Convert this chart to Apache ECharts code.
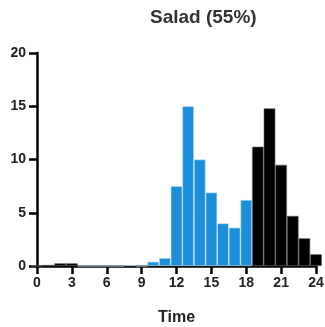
<!DOCTYPE html>
<html>
<head>
<meta charset="utf-8">
<script src="https://cdn.jsdelivr.net/npm/echarts@6/dist/echarts.min.js"></script>
<style>
  html, body { margin: 0; padding: 0; background: #fff; }
  #chart { width: 325px; height: 327px; }
</style>
</head>
<body>
<div id="chart"></div>
<script>
// hour of day, one bar per hour
const hours = [0, 1, 2, 3, 4, 5, 6, 7, 8, 9, 10, 11, 12, 13, 14, 15, 16, 17, 18, 19, 20, 21, 22, 23, 24];
const dayValues = [null, null, null, null, 0, 0, 0, 0, 0.1, 0, 0.4, 0.75, 7.5, 15.0, 10.0, 6.9, 4.0, 3.6, 6.2, null, null, null, null, null, null];
const nightValues = [0, 0.1, 0.25, 0.25, null, null, null, null, null, null, null, null, null, null, null, null, null, null, null, 11.2, 14.8, 9.5, 4.7, 2.6, 1.1];
const xTicks = [0, 3, 6, 9, 12, 15, 18, 21, 24];
const yTicks = [0, 5, 10, 15, 20];

const font = "Liberation Sans";
const chart = echarts.init(document.getElementById("chart"));

const pair = (vals) => hours.map((h, i) => [h, vals[i]]);

chart.setOption({
  animation: false,
  title: {
    text: "Salad (55%)",
    left: 150,
    top: 8,
    padding: 0,
    textStyle: { fontFamily: font, fontSize: 19, fontWeight: "bold", color: "#333" },
  },
  grid: { left: 37, right: 9, top: 53, bottom: 61, outerBoundsMode: "none", containLabel: false },
  xAxis: {
    type: "value",
    min: 0,
    max: 24,
    interval: 3,
    name: "Time",
    nameLocation: "middle",
    nameGap: 44,
    nameTextStyle: { fontFamily: font, fontSize: 16, fontWeight: "bold", color: "#222" },
    axisLine: { lineStyle: { color: "#000", width: 2.5 } },
    axisTick: { show: true, length: 8, inside: false, lineStyle: { color: "#000", width: 2.5 } },
    axisLabel: {
      fontFamily: font, fontSize: 14, fontWeight: "bold", color: "#222", margin: 10,
      formatter: (v) => (xTicks.includes(v) ? String(v) : ""),
    },
    splitLine: { show: false },
  },
  yAxis: {
    type: "value",
    min: 0,
    max: 20,
    interval: 5,
    axisLine: { show: true, lineStyle: { color: "#000", width: 2.5 } },
    axisTick: { show: true, length: 8, lineStyle: { color: "#000", width: 2.5 } },
    axisLabel: {
      fontFamily: font, fontSize: 14, fontWeight: "bold", color: "#222", margin: 11,
      formatter: (v) => (yTicks.includes(v) ? String(v) : ""),
    },
    splitLine: { show: false },
  },
  series: [
    {
      type: "bar",
      data: pair(dayValues),
      barWidth: 11.6,
      barGap: "-100%",
      clip: false,
      itemStyle: { color: "#1b8fdb", borderColor: "#cfe6f5", borderWidth: 0.6 },
    },
    {
      type: "bar",
      data: pair(nightValues),
      barWidth: 11.6,
      barGap: "-100%",
      clip: false,
      itemStyle: { color: "#000", borderColor: "#666", borderWidth: 0.6 },
    },
  ],
});
</script>
</body>
</html>
